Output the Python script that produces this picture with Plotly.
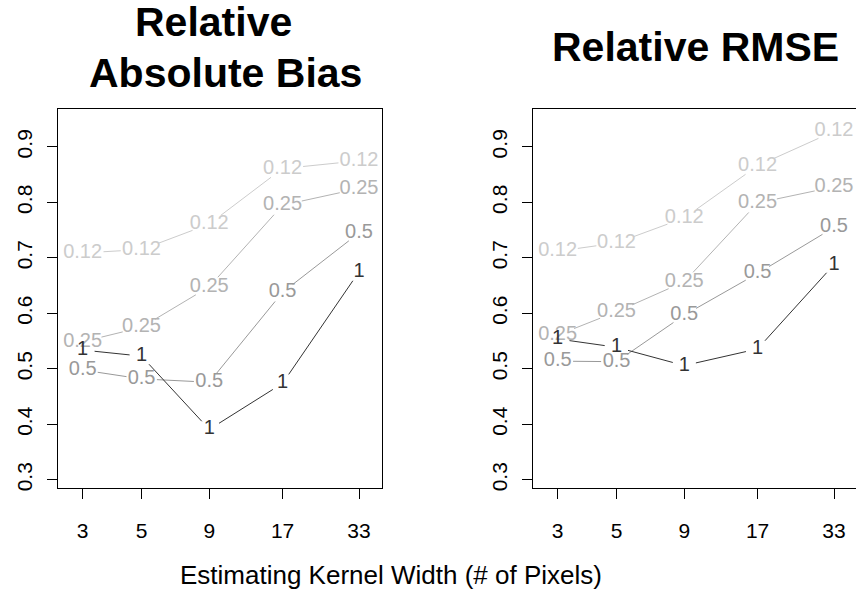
import numpy as np
import plotly.graph_objects as go

# ---------------- data ----------------
kernel_width = [3, 5, 9, 17, 33]
x_tick_labels = ["3", "5", "9", "17", "33"]
y_tick_values = [0.3, 0.4, 0.5, 0.6, 0.7, 0.8, 0.9]
y_tick_labels = ["0.3", "0.4", "0.5", "0.6", "0.7", "0.8", "0.9"]
series_labels = ["0.12", "0.25", "0.5", "1"]

bias_012 = [0.709, 0.715, 0.761, 0.861, 0.875]
bias_025 = [0.549, 0.575, 0.648, 0.795, 0.825]
bias_05 = [0.498, 0.482, 0.476, 0.638, 0.745]
bias_1 = [0.534, 0.523, 0.391, 0.474, 0.675]

rmse_012 = [0.712, 0.727, 0.772, 0.866, 0.928]
rmse_025 = [0.561, 0.603, 0.657, 0.799, 0.828]
rmse_05 = [0.514, 0.513, 0.597, 0.672, 0.755]
rmse_1 = [0.554, 0.539, 0.506, 0.536, 0.688]

panel_titles = [["Relative", "Absolute Bias"], ["Relative RMSE"]]
x_title = "Estimating Kernel Width (# of Pixels)"

# ---------------- style / geometry ----------------
W, H = 856, 595
FONT = "Liberation Sans, Arial, Helvetica, sans-serif"
series_colors = ["#cccccc", "#b3b3b3", "#999999", "#333333"]
LABEL_SIZE = 20
TICK_SIZE = 21

TOP, BOTTOM = 110.0, 490.5
PANELS = [
    dict(left=58.3, right=381.7, tick3=82.67),
    dict(left=533.3, right=856.0, tick3=557.67),
]
K = 276.33 / np.log10(11.0)           # px per log10 unit
Y09, Y03 = 147.67, 482.33              # px of 0.9 and 0.3
KY = (Y03 - Y09) / 0.6
Y_TOP = 0.9 + (Y09 - TOP) / KY
Y_BOT = 0.3 - (BOTTOM - Y03) / KY


def xrange_for(p):
    l3 = np.log10(3.0)
    return [l3 - (p["tick3"] - p["left"]) / K, l3 + (p["right"] - p["tick3"]) / K]


def em_width(s):
    w = 0.0
    for ch in s:
        w += 0.278 if ch == "." else 0.556
    return w


def gapped_segments(xs, ys, label, p):
    """Line segments between points, with gaps around the text labels (R type='b')."""
    r0 = xrange_for(p)[0]
    px = [p["left"] + (np.log10(x) - r0) * K for x in xs]
    py = [TOP + (Y_TOP - y) * KY for y in ys]
    a = max(em_width(label) * LABEL_SIZE / 2 + 1.5, 12.0)
    b = 10.5
    outx, outy = [], []
    for i in range(len(xs) - 1):
        dx, dy = px[i + 1] - px[i], py[i + 1] - py[i]
        L = np.hypot(dx, dy)
        c, s = dx / L, dy / L
        r = 1.0 / np.sqrt((c / a) ** 2 + (s / b) ** 2)
        if 2 * r >= L:
            continue
        sx, sy = px[i] + c * r, py[i] + s * r
        ex, ey = px[i + 1] - c * r, py[i + 1] - s * r
        for qx, qy in ((sx, sy), (ex, ey)):
            outx.append(10 ** (r0 + (qx - p["left"]) / K))
            outy.append(Y_TOP - (qy - TOP) / KY)
        outx.append(None)
        outy.append(None)
    return outx, outy


fig = go.Figure()
panel_data = [
    [bias_012, bias_025, bias_05, bias_1],
    [rmse_012, rmse_025, rmse_05, rmse_1],
]

for pi, (p, data) in enumerate(zip(PANELS, panel_data)):
    xa = "x" if pi == 0 else "x2"
    ya = "y" if pi == 0 else "y2"
    for lab, col, vals in zip(series_labels, series_colors, data):
        sx, sy = gapped_segments(kernel_width, vals, lab, p)
        fig.add_trace(go.Scatter(x=sx, y=sy, mode="lines", line=dict(color=col, width=1),
                                 xaxis=xa, yaxis=ya, showlegend=False, hoverinfo="skip",
                                 cliponaxis=False))
    for lab, col, vals in zip(series_labels, series_colors, data):
        fig.add_trace(go.Scatter(x=kernel_width, y=vals, mode="text", text=[lab] * len(vals),
                                 textposition="middle center",
                                 textfont=dict(family=FONT, size=LABEL_SIZE, color=col),
                                 xaxis=xa, yaxis=ya, showlegend=False, cliponaxis=False))

ydom = [(H - BOTTOM) / H, (H - TOP) / H]
common_x = dict(type="log", tickvals=kernel_width, ticktext=x_tick_labels, ticks="outside",
                ticklen=10, tickcolor="black", tickwidth=1, showline=True, linecolor="black",
                linewidth=1, mirror=True, showgrid=False, zeroline=False,
                ticklabelstandoff=14,
                tickfont=dict(family=FONT, size=TICK_SIZE, color="black"))
common_y = dict(range=[Y_BOT, Y_TOP], tickvals=y_tick_values, ticktext=y_tick_labels,
                tickangle=-90, ticks="outside", ticklen=10, tickcolor="black", tickwidth=1,
                showline=True, linecolor="black", linewidth=1, showgrid=False, zeroline=False,
                ticklabelstandoff=7,
                tickfont=dict(family=FONT, size=TICK_SIZE, color="black"))

fig.update_layout(
    width=W, height=H, margin=dict(l=0, r=0, t=0, b=0),
    paper_bgcolor="white", plot_bgcolor="white",
    xaxis=dict(common_x, domain=[PANELS[0]["left"] / W, PANELS[0]["right"] / W],
               range=xrange_for(PANELS[0]), anchor="y"),
    yaxis=dict(common_y, domain=ydom, anchor="x", mirror=True),
    xaxis2=dict(common_x, domain=[PANELS[1]["left"] / W, 1.0],
                range=xrange_for(PANELS[1]), anchor="y2"),
    yaxis2=dict(common_y, domain=ydom, anchor="x2", mirror=False),
    font=dict(family=FONT),
)

# titles
title_font = dict(family=FONT, size=41, color="black")
left_c = (PANELS[0]["left"] + PANELS[0]["right"]) / 2 / W
right_c = (PANELS[1]["left"] + 857.3) / 2 / W
fig.add_annotation(text="<b>" + panel_titles[0][0] + "</b>", x=left_c - 6 / W, y=1 - 22 / H,
                   xref="paper", yref="paper", showarrow=False, font=title_font,
                   xanchor="center", yanchor="middle")
fig.add_annotation(text="<b>" + panel_titles[0][1] + "</b>", x=left_c + 5 / W, y=1 - 73 / H,
                   xref="paper", yref="paper", showarrow=False, font=title_font,
                   xanchor="center", yanchor="middle")
fig.add_annotation(text="<b>" + panel_titles[1][0] + "</b>", x=right_c, y=1 - 47 / H,
                   xref="paper", yref="paper", showarrow=False, font=title_font,
                   xanchor="center", yanchor="middle")
fig.add_annotation(text=x_title, x=391 / W, y=1 - 578 / H, xref="paper", yref="paper",
                   showarrow=False, font=dict(family=FONT, size=26, color="black"),
                   xanchor="center", yanchor="middle")

fig.write_html(
    "out.html",
    config={"displayModeBar": False},
    post_script="document.body.style.margin='0';document.body.style.overflow='hidden';",
)
